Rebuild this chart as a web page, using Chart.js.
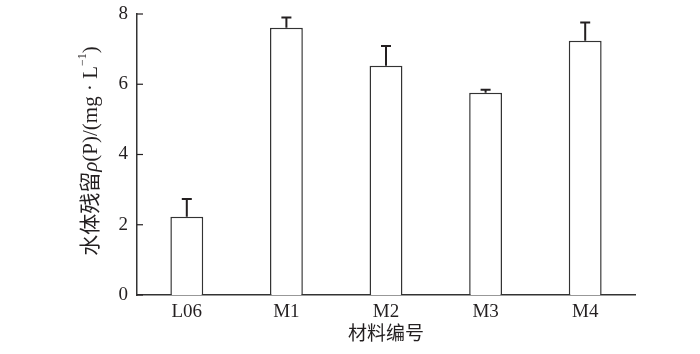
<!DOCTYPE html>
<html>
<head>
<meta charset="utf-8">
<script src="https://cdn.jsdelivr.net/npm/chart.js@4/dist/chart.umd.min.js"></script>
<style>
  html, body { margin: 0; padding: 0; background: #fff; }
  #wrap { width: 700px; height: 354px; }
</style>
</head>
<body>
<div id="wrap"><canvas id="miGrafico"></canvas></div>
<script>
// datos
var materiales = ['L06', 'M1', 'M2', 'M3', 'M4'];
var residuo = [2.23, 7.61, 6.53, 5.76, 7.24];
var desviacion = [0.50, 0.29, 0.56, 0.08, 0.52];
var ticksY = [0, 2, 4, 6, 8];

var serif = '"Liberation Serif", "Times New Roman", serif';
var cjk = '"Liberation Serif", "Noto Sans CJK SC", serif';
var negro = '#231f20';

// barras de error (solo hacia arriba) y marcas del eje y hacia dentro
var extras = {
    id: 'extras',
    afterDatasetsDraw: function(chart) {
        var ctx = chart.ctx;
        var x = chart.scales.x, y = chart.scales.y;
        ctx.save();
        ctx.strokeStyle = negro;
        ctx.lineWidth = 2;
        for (var i = 0; i < residuo.length; i++) {
            var cx = x.getPixelForValue(i);
            var y0 = y.getPixelForValue(residuo[i]);
            var y1 = y.getPixelForValue(residuo[i] + desviacion[i]);
            ctx.beginPath();
            ctx.moveTo(cx, y0);
            ctx.lineTo(cx, y1);
            ctx.moveTo(cx - 5, y1);
            ctx.lineTo(cx + 5, y1);
            ctx.stroke();
        }
        ctx.lineWidth = 1.2;
        for (var j = 0; j < ticksY.length; j++) {
            var ty = y.getPixelForValue(ticksY[j]);
            ctx.beginPath();
            ctx.moveTo(x.left, ty);
            ctx.lineTo(x.left + 6, ty);
            ctx.stroke();
        }

        // titulo del eje y con rho en cursiva y superindice
        var partes = [
            { t: '水体残留', f: '21px ' + cjk, dy: 0 },
            { t: 'ρ', f: 'italic 21px ' + serif, dy: 0 },
            { t: '(P)/(mg · L', f: '21px ' + serif, dy: 0 },
            { t: '−1', f: '12px ' + serif, dy: -8 },
            { t: ')', f: '21px ' + serif, dy: 0 }
        ];
        var total = 0;
        partes.forEach(function(p) { ctx.font = p.f; p.w = ctx.measureText(p.t).width; total += p.w; });
        ctx.translate(91, 151);
        ctx.rotate(-Math.PI / 2);
        ctx.fillStyle = negro;
        ctx.textBaseline = 'middle';
        var px = -total / 2;
        partes.forEach(function(p) {
            ctx.font = p.f;
            ctx.fillText(p.t, px, p.dy);
            px += p.w;
        });
        ctx.restore();
    }
};

var grafico = new Chart(document.getElementById('miGrafico'), {
    type: 'bar',
    data: {
        labels: materiales,
        datasets: [{
            data: residuo,
            backgroundColor: '#ffffff',
            borderColor: '#333333',
            borderWidth: 1.5,
            barPercentage: 0.33,
            categoryPercentage: 1
        }]
    },
    options: {
        responsive: true,
        maintainAspectRatio: false,
        animation: false,
        layout: { padding: { top: 14, right: 65, bottom: 0, left: 0 } },
        plugins: { legend: { display: false }, tooltip: { enabled: false } },
        scales: {
            x: {
                grid: { display: false, drawTicks: false },
                border: { display: true, color: '#333333', width: 1.5 },
                ticks: { color: negro, font: { family: serif, size: 19 }, padding: 6 },
                title: {
                    display: true,
                    text: '材料编号',
                    color: negro,
                    font: { family: cjk, size: 19 },
                    padding: { top: 0, bottom: 8 }
                },
                afterFit: function(s) { s.height = 59; s.paddingLeft = 0; s.paddingRight = 0; }
            },
            y: {
                min: 0,
                max: 8,
                grid: { display: false, drawTicks: false },
                border: { display: true, color: '#333333', width: 1.5 },
                ticks: { stepSize: 2, color: negro, font: { family: serif, size: 19 }, padding: 9 },
                afterFit: function(s) { s.width = 137; s.paddingTop = 0; s.paddingBottom = 0; }
            }
        }
    },
    plugins: [extras]
});
</script>
</body>
</html>
